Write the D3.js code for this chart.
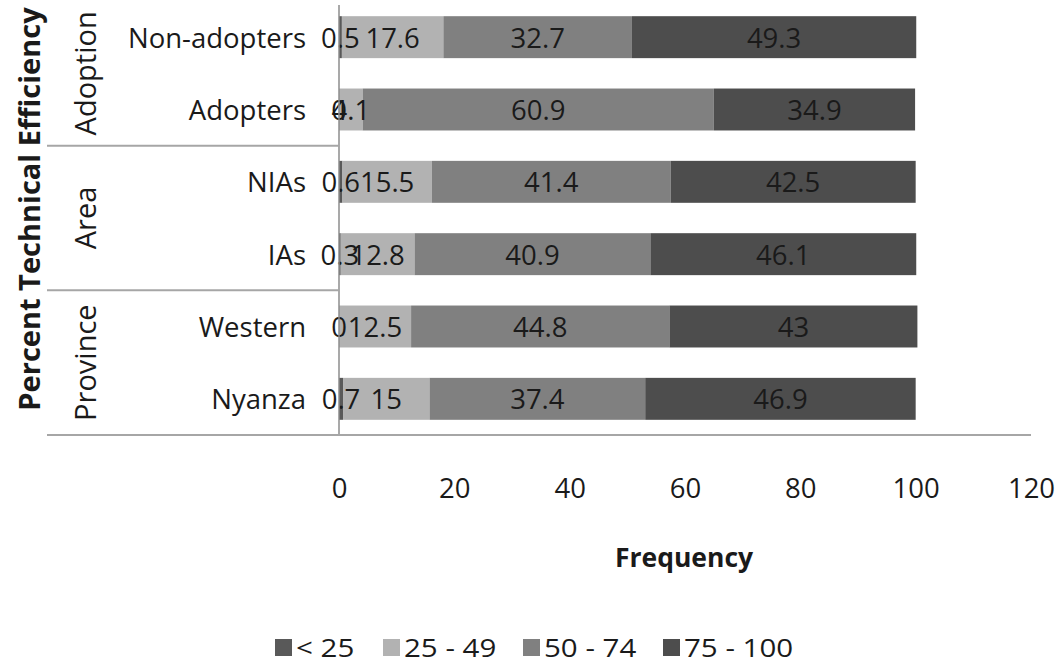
<!DOCTYPE html>
<html><head><meta charset="utf-8">
<script src="https://cdn.jsdelivr.net/npm/d3@7"></script>
<style>body{margin:0;background:#fff}svg{display:block}text{font-family:"Open Sans",sans-serif}</style>
</head><body>
<svg id="c" width="1062" height="664"></svg>
<script>
const categories = ["Non-adopters","Adopters","NIAs","IAs","Western","Nyanza"];
const groups = ["Adoption","Area","Province"];
const seriesNames = ["< 25","25 - 49","50 - 74","75 - 100"];
const lt25   = [0.5, 0, 0.6, 0.3, 0, 0.7];
const s25_49 = [17.6, 4.1, 15.5, 12.8, 12.5, 15];
const s50_74 = [32.7, 60.9, 41.4, 40.9, 44.8, 37.4];
const s75_100= [49.3, 34.9, 42.5, 46.1, 43, 46.9];
const xTicks = [0,20,40,60,80,100,120];
const colors = ["#595959","#b2b2b2","#808080","#4d4d4d"];

const svg = d3.select("#c");
const x = d3.scaleLinear().domain([0,120]).range([339,1031]);
const y = d3.scaleBand().domain(categories).range([1,435]).paddingInner(0.42).paddingOuter(0.21);

const rows = categories.map((c,i)=>({cat:c, "< 25":lt25[i], "25 - 49":s25_49[i], "50 - 74":s50_74[i], "75 - 100":s75_100[i]}));
const stack = d3.stack().keys(seriesNames)(rows);

const fs = 27.5;
stack.forEach((layer,k)=>{
  svg.append("g").selectAll("rect").data(layer).join("rect")
    .attr("x",d=>x(d[0])).attr("width",d=>x(d[1])-x(d[0]))
    .attr("y",d=>y(d.data.cat)).attr("height",y.bandwidth())
    .attr("fill",colors[k]);
});
stack.forEach((layer,k)=>{
  svg.append("g").selectAll("text").data(layer).join("text")
    .attr("x",d=>x((d[0]+d[1])/2)).attr("y",d=>y(d.data.cat)+y.bandwidth()/2)
    .attr("text-anchor","middle").attr("dominant-baseline","central")
    .attr("font-size",fs).attr("fill","#1a1a1a")
    .text(d=>d3.format("")(+(d[1]-d[0]).toFixed(1)));
});

// axes lines
svg.append("line").attr("x1",x(0)).attr("x2",x(0)).attr("y1",5).attr("y2",435).attr("stroke","#8c8c8c").attr("stroke-width",1.5);
svg.append("line").attr("x1",47).attr("x2",x(120)).attr("y1",435).attr("y2",435).attr("stroke","#a6a6a6").attr("stroke-width",2);
[2,4].forEach(i=>{
  const yy = y.range()[0] + y.step()*i;
  svg.append("line").attr("x1",47).attr("x2",x(0)).attr("y1",yy).attr("y2",yy).attr("stroke","#a6a6a6").attr("stroke-width",2);
});

// category labels
svg.append("g").selectAll("text").data(categories).join("text")
  .attr("x",306).attr("y",d=>y(d)+y.bandwidth()/2).attr("text-anchor","end")
  .attr("dominant-baseline","central").attr("font-size",fs).attr("fill","#1a1a1a").text(d=>d);

// group labels
groups.forEach((g,i)=>{
  const cy = y.range()[0] + y.step()*(2*i+1);
  svg.append("text").attr("transform",`translate(84,${cy}) rotate(-90)`)
    .attr("text-anchor","middle").attr("dominant-baseline","central")
    .attr("font-size",29).attr("fill","#1a1a1a").text(g);
});

// x tick labels
const xAxis = d3.axisBottom(x).tickValues(xTicks).tickSize(0).tickPadding(0);
const gx = svg.append("g").attr("transform","translate(0,478)").call(xAxis);
gx.select(".domain").remove();
gx.selectAll("text").attr("font-size",fs).attr("fill","#1a1a1a").attr("font-family","Open Sans");

svg.append("text").attr("x",684).attr("y",557).attr("text-anchor","middle").attr("dominant-baseline","central")
  .attr("font-size",26.5).attr("font-weight","bold").attr("fill","#1a1a1a").text("Frequency");
svg.append("text").attr("transform","translate(28,209) rotate(-90)").attr("text-anchor","middle").attr("dominant-baseline","central")
  .attr("font-size",29).attr("font-weight","bold").attr("fill","#1a1a1a").text("Percent Technical Efficiency");

// legend
const legX = [275, 383, 523, 663];
seriesNames.forEach((s,i)=>{
  const g = svg.append("g").attr("transform",`translate(${legX[i]},647)`);
  g.append("rect").attr("x",0).attr("y",-8).attr("width",17).attr("height",17).attr("fill",colors[i]);
  g.append("text").attr("transform","translate(21,0) scale(1.18,1)").attr("dominant-baseline","central")
    .attr("font-size",25).attr("fill","#1a1a1a").text(s);
});
</script>
</body></html>
